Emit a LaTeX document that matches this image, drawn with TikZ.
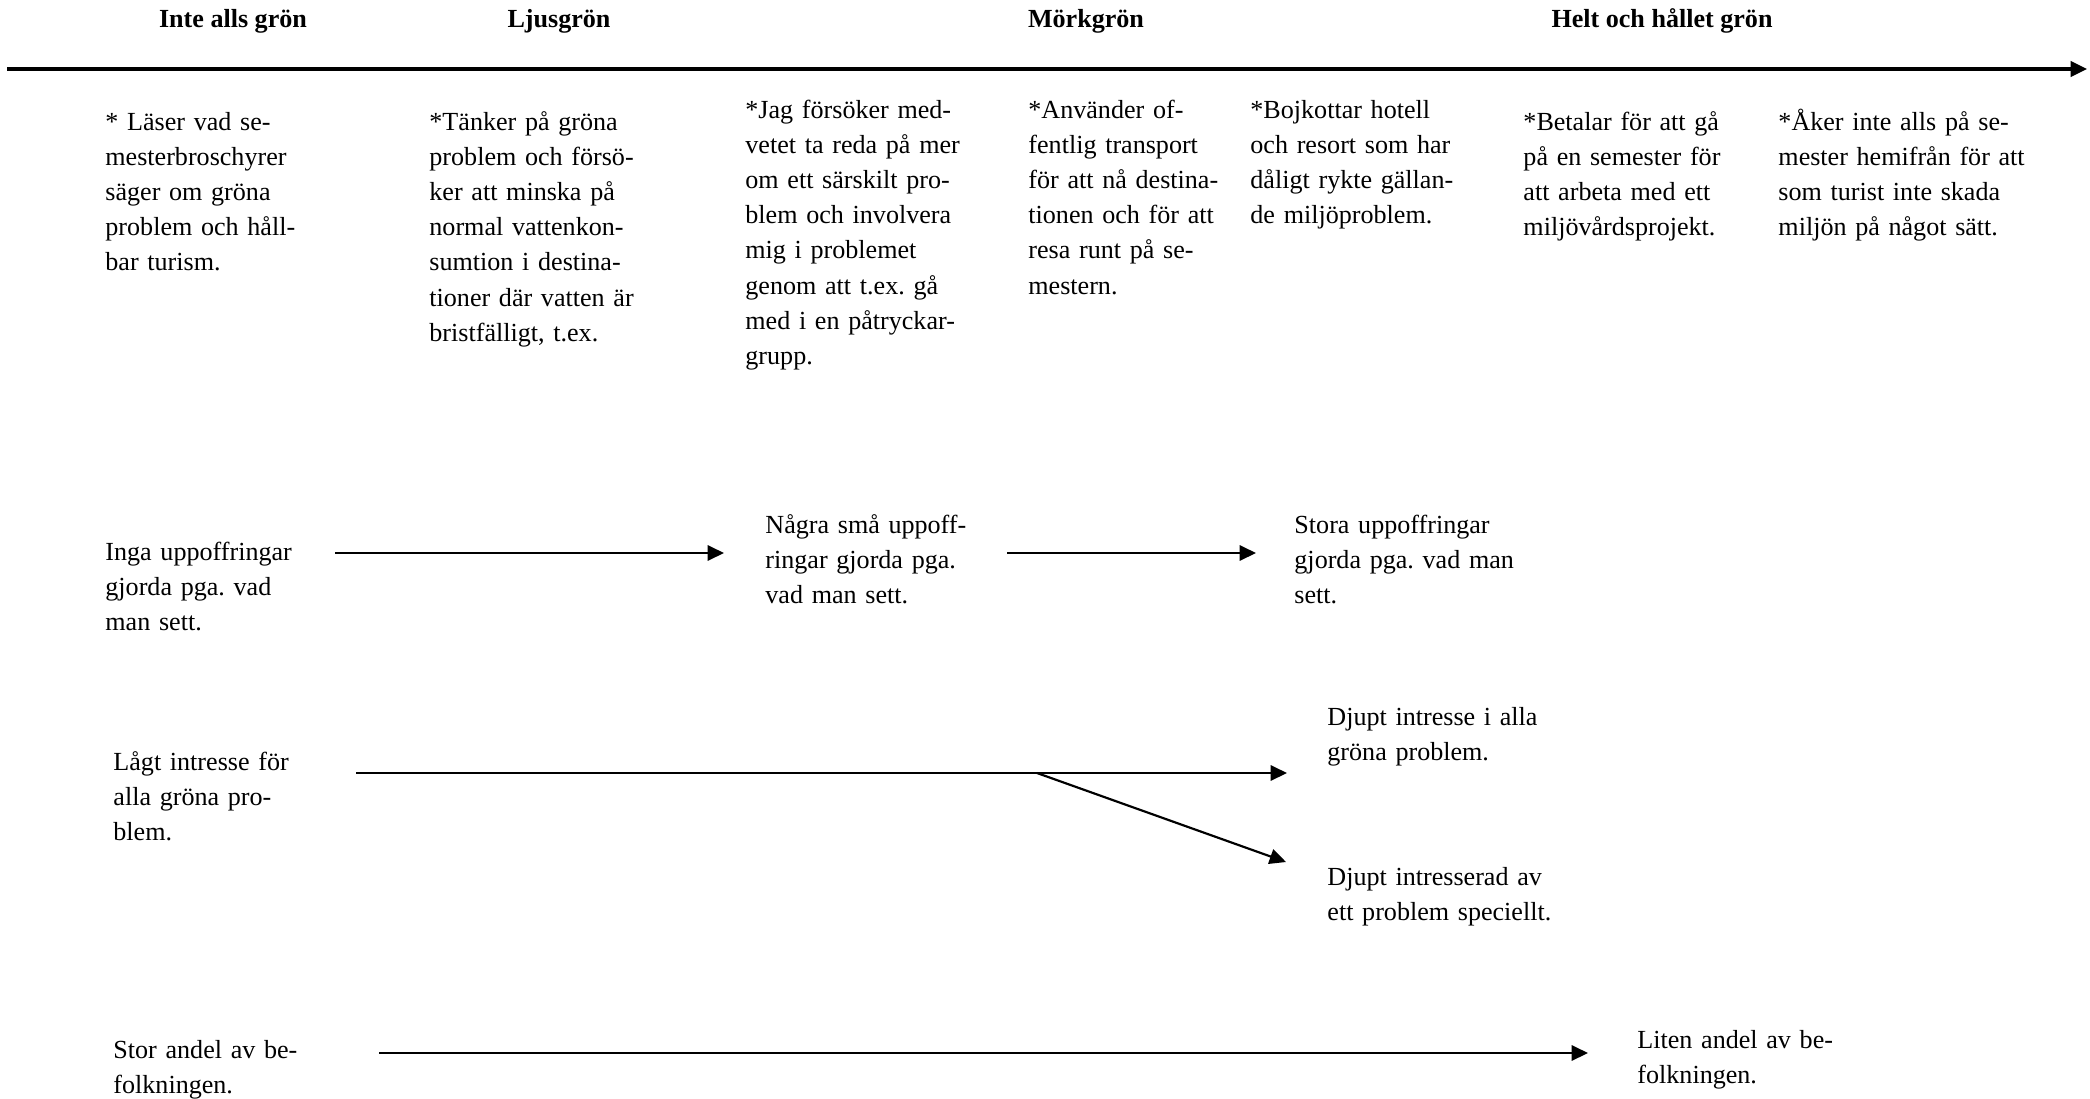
\documentclass[tikz,border=0pt]{standalone}
\usepackage{fontspec}
\setmainfont{Liberation Serif}
\usetikzlibrary{arrows.meta}
\frenchspacing
\begin{document}
\begin{tikzpicture}[x=0.46pt,y=-0.46pt,
  every node/.style={inner sep=0pt,font=\fontsize{12}{16.2}\selectfont},
  txt/.style={anchor=base west,align=left,text width=118pt},
  hd/.style={anchor=base,font=\fontsize{12}{16.2}\selectfont\bfseries},
  arr/.style={line width=1pt,-{Triangle[length=7.5pt,width=7pt]}}]
\useasboundingbox (0,0) rectangle (2090,1098);
\coordinate (ax0) at (7,69);
\coordinate (ax1) at (2087,69);
\draw[arr,line width=1.4pt] (ax0)--(ax1);
\node[hd] (inte) at (233,28) {Inte alls grön};
\node[hd] (ljus) at (559,28) {Ljusgrön};
\node[hd] (mork) at (1086,28) {Mörkgrön};
\node[hd] (helt) at (1662,28) {Helt och hållet grön};
\node[txt] (laser) at (105,130) {* Läser vad se-\\mesterbroschyrer\\säger om gröna\\problem och håll-\\bar turism.};
\node[txt] (tanker) at (429,130) {*Tänker på gröna\\problem och försö-\\ker att minska på\\normal vattenkon-\\sumtion i destina-\\tioner där vatten är\\bristfälligt, t.ex.};
\node[txt] (jag) at (745,118) {*Jag försöker med-\\vetet ta reda på mer\\om ett särskilt pro-\\blem och involvera\\mig i problemet\\genom att t.ex. gå\\med i en påtryckar-\\grupp.};
\node[txt] (anv) at (1028,118) {*Använder of-\\fentlig transport\\för att nå destina-\\tionen och för att\\resa runt på se-\\mestern.};
\node[txt] (bojk) at (1250,118) {*Bojkottar hotell\\och resort som har\\dåligt rykte gällan-\\de miljöproblem.};
\node[txt] (betal) at (1523,130) {*Betalar för att gå\\på en semester för\\att arbeta med ett\\miljövårdsprojekt.};
\node[txt] (aker) at (1778,130) {*Åker inte alls på se-\\mester hemifrån för att\\som turist inte skada\\miljön på något sätt.};
\node[txt] (inga) at (105,560) {Inga uppoffringar\\gjorda pga. vad\\man sett.};
\node[txt] (nagra) at (765,533) {Några små uppoff-\\ringar gjorda pga.\\vad man sett.};
\node[txt] (stora) at (1294,533) {Stora uppoffringar\\gjorda pga. vad man\\sett.};
\coordinate (p1) at (335,553);
\coordinate (p2) at (724,553);
\coordinate (p3) at (1007,553);
\coordinate (p4) at (1256,553);
\draw[arr] (p1)--(p2);
\draw[arr] (p3)--(p4);
\node[txt] (lagt) at (113,770) {Lågt intresse för\\alla gröna pro-\\blem.};
\node[txt] (alla) at (1327,725) {Djupt intresse i alla\\gröna problem.};
\node[txt] (ett) at (1327,885) {Djupt intresserad av\\ett problem speciellt.};
\coordinate (q1) at (356,773);
\coordinate (q2) at (1037,773);
\coordinate (q3) at (1287,773);
\coordinate (q4) at (1286,862);
\draw[arr] (q1)--(q3);
\draw[arr] (q2)--(q4);
\node[txt] (stor) at (113,1058) {Stor andel av be-\\folkningen.};
\node[txt] (liten) at (1637,1048) {Liten andel av be-\\folkningen.};
\coordinate (r1) at (379,1053);
\coordinate (r2) at (1588,1053);
\draw[arr] (r1)--(r2);
\end{tikzpicture}
\end{document}
